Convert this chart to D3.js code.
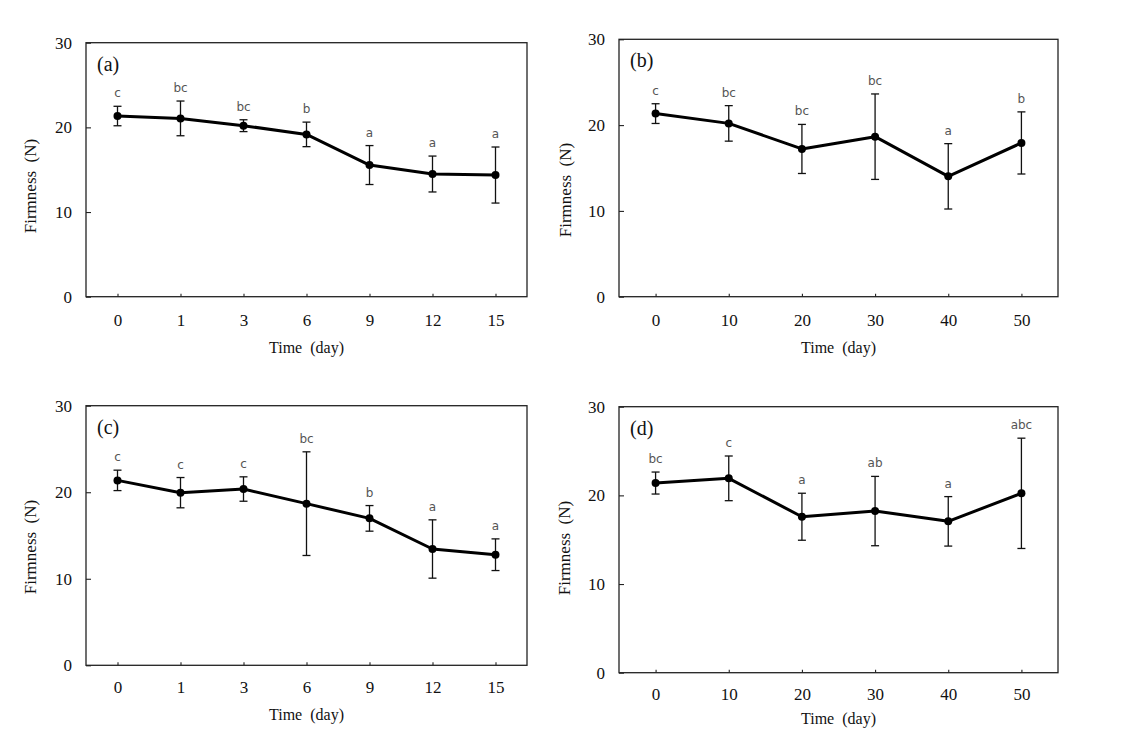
<!DOCTYPE html>
<html><head><meta charset="utf-8">
<script src="https://cdnjs.cloudflare.com/ajax/libs/d3/7.8.5/d3.min.js"></script>
<style>
html,body{margin:0;padding:0;background:#fff;}
svg{display:block;}
</style>
</head><body>
<svg id="chart" width="1130" height="744"></svg>
<script>
// ---- data ----
const daysShort = ["0", "1", "3", "6", "9", "12", "15"];
const daysLong  = ["0", "10", "20", "30", "40", "50"];
const yTicks = [0, 10, 20, 30];

const meanA = [21.34, 21.06, 20.2, 19.17, 15.55, 14.49, 14.37];
const sdA   = [1.15, 2.05, 0.7, 1.45, 2.3, 2.12, 3.31];
const letA  = ["c", "bc", "bc", "b", "a", "a", "a"];

const meanB = [21.34, 20.2, 17.22, 18.65, 14.03, 17.92];
const sdB   = [1.15, 2.07, 2.86, 4.98, 3.81, 3.62];
const letB  = ["c", "bc", "bc", "bc", "a", "b"];

const meanC = [21.37, 19.95, 20.37, 18.68, 16.98, 13.44, 12.78];
const sdC   = [1.18, 1.75, 1.41, 5.99, 1.48, 3.37, 1.83];
const letC  = ["c", "c", "c", "bc", "b", "a", "a"];

const meanD = [21.39, 21.92, 17.59, 18.23, 17.07, 20.23];
const sdD   = [1.24, 2.52, 2.65, 3.91, 2.79, 6.22];
const letD  = ["bc", "c", "a", "ab", "a", "abc"];

const panelNames = ["(a)", "(b)", "(c)", "(d)"];
const xTitle = "Time\u00a0\u00a0(day)";
const yTitle = "Firmness\u00a0\u00a0(N)";

// ---- layout ----
const layout = [
  {left: 86,  top: 42.7,  right: 527,  bottom: 296.7, xPad: 17, xTitleY: 349, yTitleX: 32,  yTitleY: 186},
  {left: 619, top: 39.3,  right: 1058, bottom: 296.7, xPad: 17, xTitleY: 349, yTitleX: 567, yTitleY: 190},
  {left: 86,  top: 405.7, right: 527,  bottom: 665.3, xPad: 16, xTitleY: 716, yTitleX: 32,  yTitleY: 547},
  {left: 619, top: 406.7, right: 1058, bottom: 672.7, xPad: 15, xTitleY: 720, yTitleX: 566, yTitleY: 548}
];
const panelData = [
  {days: daysShort, mean: meanA, sd: sdA, letters: letA},
  {days: daysLong,  mean: meanB, sd: sdB, letters: letB},
  {days: daysShort, mean: meanC, sd: sdC, letters: letC},
  {days: daysLong,  mean: meanD, sd: sdD, letters: letD}
];

const svg = d3.select("#chart");
const serif = "'Liberation Serif', 'Times New Roman', serif";

panelData.forEach((pd, i) => {
  const L = layout[i];
  const g = svg.append("g");
  const x = d3.scalePoint().domain(pd.days).range([L.left, L.right]).padding(0.5);
  const y = d3.scaleLinear().domain([0, 30]).range([L.bottom, L.top]);

  // axes
  const ya = g.append("g").attr("transform", `translate(${L.left},0)`)
    .call(d3.axisLeft(y).tickValues(yTicks).tickSize(-5).tickPadding(14).tickFormat(d3.format("d")));
  const xa = g.append("g").attr("transform", `translate(0,${L.bottom})`)
    .call(d3.axisBottom(x).tickSize(-3).tickPadding(L.xPad));
  [ya, xa].forEach(a => {
    a.select(".domain").remove();
    a.selectAll(".tick line").attr("stroke", "#222").attr("stroke-width", 1.1);
    a.selectAll(".tick text").attr("font-family", serif).attr("font-size", 17).attr("fill", "#111");
  });

  // frame
  g.append("rect").attr("x", L.left).attr("y", L.top)
    .attr("width", L.right - L.left).attr("height", L.bottom - L.top)
    .attr("fill", "none").attr("stroke", "#222").attr("stroke-width", 1.3);

  // titles
  g.append("text").attr("x", (L.left + L.right) / 2).attr("y", L.xTitleY)
    .attr("text-anchor", "middle").attr("dominant-baseline", "middle")
    .attr("font-family", serif).attr("font-size", 16).attr("fill", "#111").text(xTitle);
  g.append("text").attr("transform", `translate(${L.yTitleX},${L.yTitleY}) rotate(-90)`)
    .attr("text-anchor", "middle").attr("dominant-baseline", "middle")
    .attr("font-family", serif).attr("font-size", 17).attr("fill", "#111").text(yTitle);
  g.append("text").attr("x", L.left + 11).attr("y", L.top + 28)
    .attr("font-family", serif).attr("font-size", 20).attr("fill", "#111").text(panelNames[i]);

  const pts = pd.days.map((d, k) => ({d, m: pd.mean[k], s: pd.sd[k], l: pd.letters[k]}));

  // error bars
  const eb = g.append("g").attr("stroke", "#111").attr("stroke-width", 1.3);
  pts.forEach(p => {
    const cx = x(p.d), y1 = y(p.m + p.s), y2 = y(p.m - p.s);
    eb.append("line").attr("x1", cx).attr("x2", cx).attr("y1", y1).attr("y2", y2);
    eb.append("line").attr("x1", cx - 4).attr("x2", cx + 4).attr("y1", y1).attr("y2", y1);
    eb.append("line").attr("x1", cx - 4).attr("x2", cx + 4).attr("y1", y2).attr("y2", y2);
  });

  // line
  g.append("path").datum(pts)
    .attr("d", d3.line().x(p => x(p.d)).y(p => y(p.m)))
    .attr("fill", "none").attr("stroke", "#000").attr("stroke-width", 3).attr("stroke-linejoin", "round");

  // markers
  g.selectAll("circle.m").data(pts).enter().append("circle")
    .attr("cx", p => x(p.d)).attr("cy", p => y(p.m)).attr("r", 4).attr("fill", "#000");

  // significance letters
  g.selectAll("text.sig").data(pts).enter().append("text")
    .attr("x", p => x(p.d)).attr("y", p => y(p.m + p.s) - 9)
    .attr("text-anchor", "middle")
    .attr("font-family", "'DejaVu Sans', Verdana, sans-serif").attr("font-size", 12)
    .attr("fill", "#555").text(p => p.l);
});
</script>
</body></html>
